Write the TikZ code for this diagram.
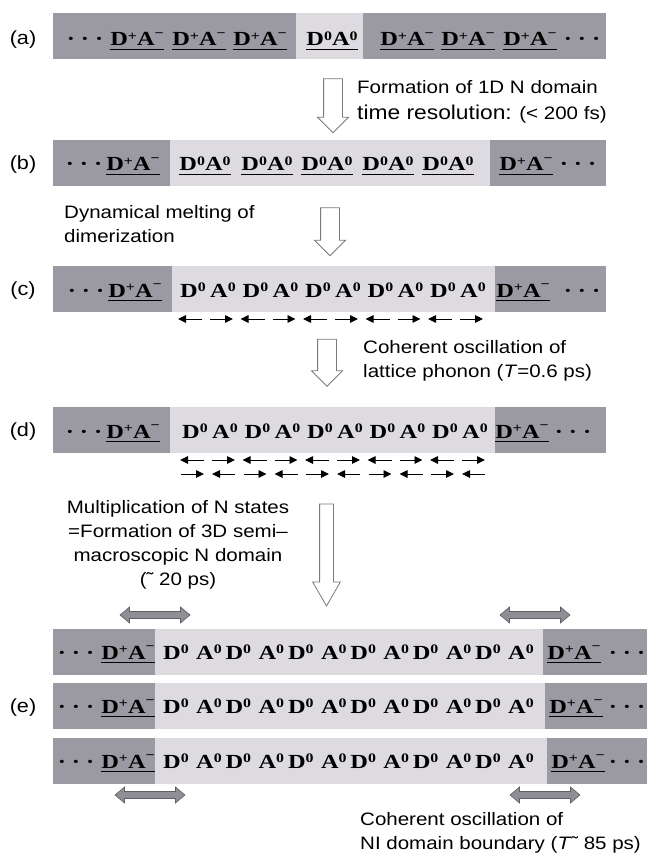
\documentclass[tikz,border=0pt]{standalone}
\usepackage{fontspec}
\usepackage{tikz}
\usetikzlibrary{arrows.meta,shapes.arrows}
\newfontfamily\notefont[FakeStretch=1.14]{Liberation Sans}
\newfontfamily\ionfont[FakeStretch=1.22]{Liberation Serif}
\definecolor{chainDark}{HTML}{9B9AA2}
\definecolor{chainLight}{HTML}{DDDBDF}
\definecolor{arrowEdge}{HTML}{7A7A7A}
\definecolor{swingFill}{HTML}{8E8E94}
\definecolor{swingEdge}{HTML}{5E5E64}
\newcommand\upr[2][5.5pt]{\raisebox{#1}{\fontsize{13}{13}\selectfont #2}}
\newcommand\ionul[1]{\setbox0=\hbox{#1}\rlap{\vrule width\wd0 height -2.6pt depth 4.3pt}\box0}
\newcommand\pairI{\ionul{D\upr{+}A\upr[8.5pt]{−}}}
\newcommand\pairN{\ionul{D\upr{0}A\upr{0}}}
\newcommand\chain{·\hspace{6pt}·\hspace{6pt}·}

\begin{document}
\begin{tikzpicture}[x=1pt,y=-1pt,
    ion/.style={font=\ionfont\bfseries\fontsize{20}{24}\selectfont,inner sep=0pt,anchor=base},
    site/.style={ion,anchor=base west},
    note/.style={font=\notefont\fontsize{18}{24}\selectfont,inner sep=0pt,anchor=north west,align=left},
    tag/.style={font=\notefont\fontsize{19}{24}\selectfont,inner sep=0pt},
    hollow/.style={single arrow,draw=arrowEdge,fill=white,line width=0.8pt,rotate=-90,
                   inner xsep=0pt,inner ysep=9pt,minimum width=0pt,
                   single arrow head extend=6pt,single arrow tip angle=90},
    swing/.style={double arrow,draw=swingEdge,fill=swingFill,line width=0.6pt,
                  inner xsep=0pt,inner ysep=3.2pt,minimum width=0pt,minimum height=70pt,
                  double arrow head extend=4.5pt,double arrow tip angle=80},
    osc/.style={line width=0.9pt,-{Triangle[length=8pt,width=7.5pt]}}]
  \useasboundingbox (0,0) rectangle (647,853);

  \foreach \yt/\la/\lb/\xr in {13/296/363/606,140/170/490/606,266/172/495/606,
      407/170/495/606,629/155/543/647,683/155/545/647,738/155/547/647}{
    \fill[chainDark] (53,\yt) rectangle (\xr,\yt+46);
    \fill[chainLight] (\la,\yt) rectangle (\lb,\yt+46);
  }

  \node[tag] (la) at (23,40) {(a)};
  \node[tag] (lb) at (23,165) {(b)};
  \node[tag] (lc) at (23,291) {(c)};
  \node[tag] (ld) at (23,432) {(d)};
  \node[tag] (le) at (23,708) {(e)};

  % (a)
  \node[ion] (a0) at (85,46) {\chain};
  \foreach \x [count=\k] in {137,199,260,407,468,530}
    \node[ion] (a\k) at (\x,46) {\pairI};
  \node[ion] (aN) at (332,46) {\pairN};
  \node[ion] (a9) at (582,46) {\chain};

  % (b)
  \node[ion] (b0) at (84,171) {\chain};
  \node[ion] (bL) at (133,171) {\pairI};
  \foreach \x [count=\k] in {205,267,327,388,448}
    \node[ion] (b\k) at (\x,171) {\pairN};
  \node[ion] (bR) at (526,171) {\pairI};
  \node[ion] (b9) at (578,171) {\chain};

  % (c)
  \node[ion] (c0) at (86,297) {\chain};
  \node[ion] (cL) at (135,297) {\pairI};
  \foreach \i in {0,...,4}{
    \node[site] (cD\i) at ({180+62.5*\i},297) {D\upr{0}};
    \node[site] (cA\i) at ({210+62.5*\i},297) {A\upr{0}};
    \draw[osc] ({202+62.5*\i},319) -- ({178+62.5*\i},319);
    \draw[osc] ({210+62.5*\i},319) -- ({233+62.5*\i},319);
  }
  \node[ion] (cR) at (523,297) {\pairI};
  \node[ion] (c9) at (582,297) {\chain};

  % (d)
  \node[ion] (d0) at (84,438) {\chain};
  \node[ion] (dL) at (133,438) {\pairI};
  \foreach \i in {0,...,4}{
    \node[site] (dD\i) at ({182+62.5*\i},438) {D\upr{0}};
    \node[site] (dA\i) at ({212+62.5*\i},438) {A\upr{0}};
    \draw[osc] ({204+62.5*\i},460) -- ({180+62.5*\i},460);
    \draw[osc] ({212+62.5*\i},460) -- ({235+62.5*\i},460);
    \draw[osc] ({181+62.5*\i},474) -- ({204+62.5*\i},474);
    \draw[osc] ({235+62.5*\i},474) -- ({212+62.5*\i},474);
  }
  \node[ion] (dR) at (522,438) {\pairI};
  \node[ion] (d9) at (573,438) {\chain};

  % (e)
  \foreach \r/\yb/\xr in {1/659/574,2/713/576,3/768/578}{
    \node[ion] (e\r l) at (76,\yb) {\chain};
    \node[ion] (e\r a) at (128,\yb) {\pairI};
    \foreach \i in {0,...,5}{
      \node[site] (e\r D\i) at ({163+62.4*\i},\yb) {D\upr{0}};
      \node[site] (e\r A\i) at ({196+62.4*\i},\yb) {A\upr{0}};
    }
    \node[ion] (e\r b) at (\xr,\yb) {\pairI};
    \node[ion] (e\r r) at (627,\yb) {\chain};
  }

  \node[hollow,minimum height=54pt] (t1) at (333,101) {};
  \node[hollow,minimum height=48pt] (t2) at (330,227) {};
  \node[hollow,minimum height=47pt] (t3) at (327,358) {};
  \node[hollow,minimum height=102pt,inner ysep=6.5pt,single arrow head extend=7pt,
        single arrow tip angle=60] (t4) at (326.5,549) {};

  \node[swing] (s1) at (155,615) {};
  \node[swing] (s2) at (535,615) {};
  \node[swing] (s3) at (150,795) {};
  \node[swing] (s4) at (545,795) {};

  \node[note] (n1) at (357,80) {Formation of 1D N domain\\[2pt]
    {\fontsize{20}{24}\selectfont time resolution:} (< 200 fs)};
  \node[note] (n2) at (64,205) {Dynamical melting of\\dimerization};
  \node[note] (n3) at (363,340) {Coherent oscillation of\\lattice phonon (\textit{T}=0.6 ps)};
  \node[note,anchor=north,align=center] (n4) at (178,500)
    {Multiplication of N states\\=Formation of 3D semi–\\macroscopic N domain\\(˜ 20 ps)};
  \node[note] (n5) at (360,812) {Coherent oscillation of\\NI domain boundary (\textit{T}˜ 85 ps)};
\end{tikzpicture}
\end{document}
